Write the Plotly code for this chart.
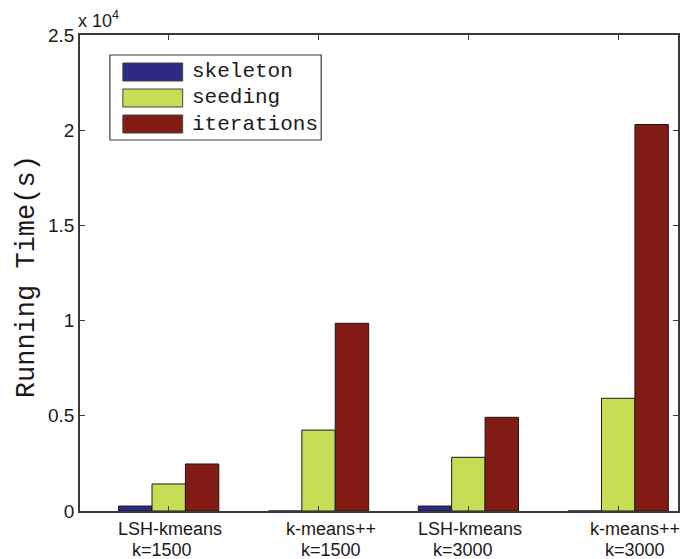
import plotly.graph_objects as go

# ---- data ----
cat_line1 = ["LSH-kmeans", "k-means++", "LSH-kmeans", "k-means++"]
cat_line2 = ["k=1500", "k=1500", "k=3000", "k=3000"]
categories = [a + "<br>" + b for a, b in zip(cat_line1, cat_line2)]

series_names = ["skeleton", "seeding", "iterations"]
skeleton = [260, 0, 260, 0]
seeding = [1420, 4250, 2820, 5920]
iterations = [2470, 9860, 4920, 20300]

y_tickvals = [0, 5000, 10000, 15000, 20000, 25000]
y_ticktext = ["0", "0.5", "1", "1.5", "2", "2.5"]

colors = ["#2D2A86", "#C5DE56", "#821B13"]
values = [skeleton, seeding, iterations]

SANS = "Liberation Sans, Arial, sans-serif"
MONO = "Liberation Mono, Courier New, monospace"

fig = go.Figure()
for name, vals, col in zip(series_names, values, colors):
    fig.add_trace(go.Bar(
        name=name, x=categories, y=vals,
        marker=dict(color=col, line=dict(color="#1a1a1a", width=1)),
        showlegend=False,
    ))

W, H = 684, 559
L, R, T, B = 80, 4, 35, 48
pw, ph = W - L - R, H - T - B

fig.update_layout(
    width=W, height=H,
    margin=dict(l=L, r=R, t=T, b=B),
    paper_bgcolor="white", plot_bgcolor="white",
    barmode="group", bargap=0.331, bargroupgap=0,
    font=dict(family=SANS, size=17, color="#1a1a1a"),
)
fig.update_xaxes(
    type="category", range=[-0.592, 3.399],
    showticklabels=False,
    ticks="inside", ticklen=5, tickcolor="#3a3a3a",
    showline=True, linecolor="#3a3a3a", linewidth=1.5, mirror="ticks",
    showgrid=False, zeroline=False,
)
fig.update_yaxes(
    range=[0, 25000], tickvals=y_tickvals, ticktext=y_ticktext,
    ticks="inside", ticklen=5, tickcolor="#3a3a3a",
    showline=True, linecolor="#3a3a3a", linewidth=1.5, mirror="ticks",
    showgrid=False, zeroline=False,
    tickfont=dict(family=SANS, size=19, color="#1a1a1a"),
)

# two-line category labels
shift1 = [1.5, 12, 2, 17]
shift2 = [-7, 12, -5, 17]
for c, l1, l2, s1, s2 in zip(categories, cat_line1, cat_line2, shift1, shift2):
    fig.add_annotation(x=c, xref="x", y=0, yref="paper", text=l1, showarrow=False,
                       xanchor="center", yanchor="middle", xshift=s1, yshift=-18,
                       font=dict(family=SANS, size=18, color="#1a1a1a"))
    fig.add_annotation(x=c, xref="x", y=0, yref="paper", text=l2, showarrow=False,
                       xanchor="center", yanchor="middle", xshift=s2, yshift=-39,
                       font=dict(family=SANS, size=18, color="#1a1a1a"))

# exponent label
fig.add_annotation(x=0, xref="paper", y=1, yref="paper", text="x 10<sup>4</sup>",
                   showarrow=False, xanchor="left", yanchor="bottom", xshift=-4, yshift=2,
                   font=dict(family=SANS, size=18, color="#1a1a1a"))

# y-axis title
fig.add_annotation(x=(27 - L) / pw, xref="paper", y=0.5, yref="paper",
                   text="Running Time(s)", textangle=-90, showarrow=False,
                   xanchor="center", yanchor="middle", yshift=-4,
                   font=dict(family=MONO, size=27, color="#1a1a1a"))

# manual legend (wide swatches like the original)
def px_x(px):
    return (px - L) / pw

def px_y(py):
    return (H - B - py) / ph

fig.add_shape(type="rect", xref="paper", yref="paper",
              x0=px_x(110), x1=px_x(322), y0=px_y(140), y1=px_y(55),
              line=dict(color="#3a3a3a", width=1.2), fillcolor="white")
row_y = [72, 98, 124]
for name, col, ry in zip(series_names, colors, row_y):
    fig.add_shape(type="rect", xref="paper", yref="paper",
                  x0=px_x(123), x1=px_x(183), y0=px_y(ry + 9), y1=px_y(ry - 9),
                  line=dict(color="#444444", width=1), fillcolor=col)
    fig.add_annotation(x=px_x(190), xref="paper", y=px_y(ry), yref="paper",
                       text=name, showarrow=False, xanchor="left", yanchor="middle",
                       font=dict(family=MONO, size=21, color="#1a1a1a"))

fig.write_html("out.html", config={"displayModeBar": False},
               post_script="document.body.style.margin='0';document.body.style.overflow='hidden';")
